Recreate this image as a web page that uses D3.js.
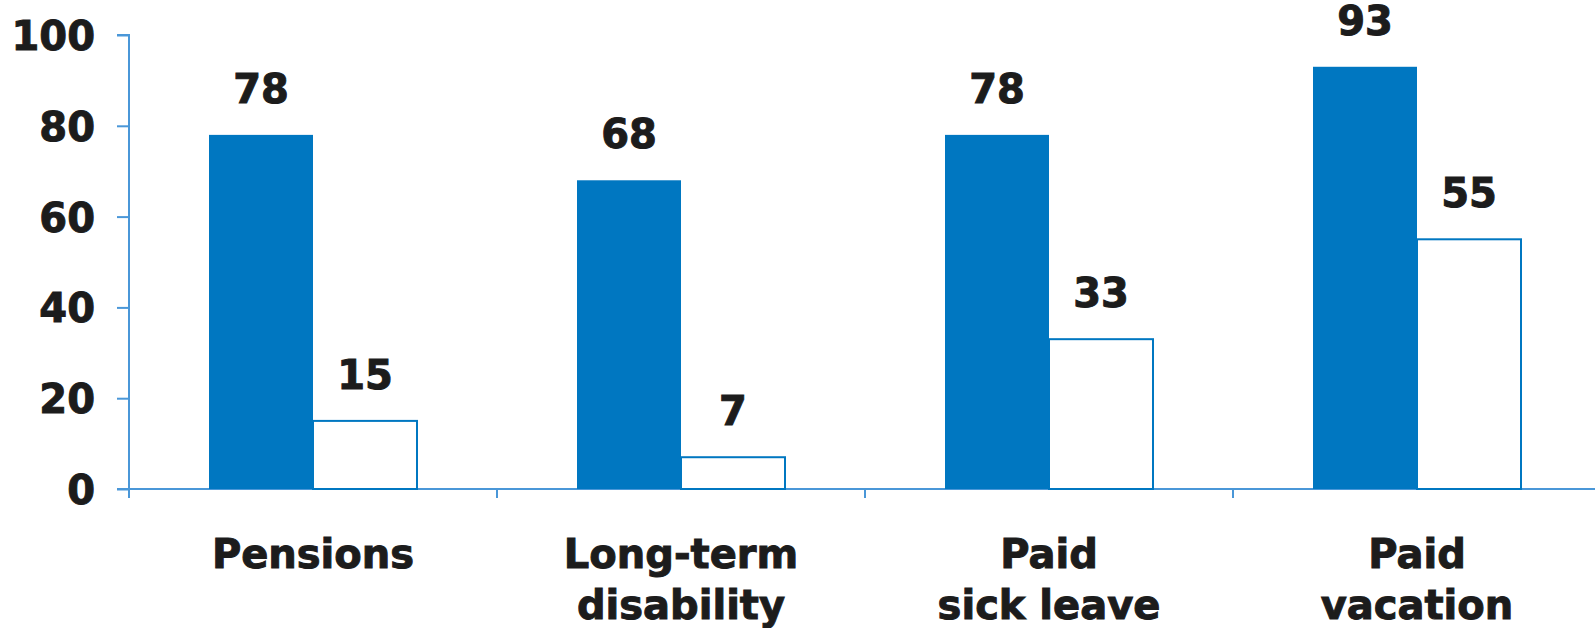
<!DOCTYPE html>
<html>
<head>
<meta charset="utf-8">
<script src="https://cdn.jsdelivr.net/npm/d3@7"></script>
<style>
  body { margin: 0; background: #fff; }
  text { font-family: "DejaVu Sans", "Liberation Sans", Arial, sans-serif; font-weight: bold; fill: #1c1c1c; }
</style>
</head>
<body>
<div class="chart"></div>
<script>
// data
const categories = ["Pensions", "Long-term disability", "Paid sick leave", "Paid vacation"];
const catLines = [["Pensions"], ["Long-term", "disability"], ["Paid", "sick leave"], ["Paid", "vacation"]];
const seriesA = [78, 68, 78, 93];   // filled bars
const seriesB = [15, 7, 33, 55];    // outlined bars
const yTicks = [0, 20, 40, 60, 80, 100];

const W = 1595, H = 628;
const margin = {top: 35, right: 0, bottom: 139, left: 129};
const width = W - margin.left - margin.right,
      height = H - margin.top - margin.bottom;

const blue = "#0077c1", axisBlue = "#4a97d8";

const svg = d3.select(".chart").append("svg")
    .attr("width", W).attr("height", H)
  .append("g")
    .attr("transform", "translate(" + margin.left + "," + margin.top + ")");

const x = d3.scaleBand()
    .domain(categories)
    .range([0, 368 * 4]);

const y = d3.scaleLinear()
    .domain([0, 100])
    .range([height, 0]);

const barW = 104;

// y axis
const yAxis = svg.append("g")
    .call(d3.axisLeft(y).tickValues(yTicks).tickSize(12).tickPadding(22));
yAxis.select(".domain").attr("d", "M-12,0H0V" + (height + 9));
yAxis.selectAll("line").attr("stroke", axisBlue).attr("stroke-width", 2);
yAxis.select(".domain").attr("stroke", axisBlue).attr("stroke-width", 2);
yAxis.selectAll("text")
    .style("font-size", "40px")
    .attr("fill", "#1c1c1c")
    .attr("stroke", "#1c1c1c").attr("stroke-width", 1)
    .attr("dy", "0.36em");

// x axis
const xAxis = svg.append("g")
    .attr("transform", "translate(0," + height + ")");
xAxis.append("line")
    .attr("x1", -12).attr("x2", width)
    .attr("stroke", axisBlue).attr("stroke-width", 2);
xAxis.selectAll(".sep")
    .data(categories)
    .enter().append("line")
    .attr("class", "sep")
    .attr("x1", d => x(d)).attr("x2", d => x(d))
    .attr("y1", 0).attr("y2", 9)
    .attr("stroke", axisBlue).attr("stroke-width", 2);

// filled bars
svg.selectAll(".barA")
    .data(seriesA)
    .enter().append("rect")
    .attr("class", "barA")
    .attr("x", (d, i) => x(categories[i]) + x.bandwidth() / 2 - barW)
    .attr("y", d => y(d))
    .attr("width", barW)
    .attr("height", d => height - y(d))
    .style("fill", blue);

// outlined bars
svg.selectAll(".barB")
    .data(seriesB)
    .enter().append("rect")
    .attr("class", "barB")
    .attr("x", (d, i) => x(categories[i]) + x.bandwidth() / 2)
    .attr("y", d => y(d))
    .attr("width", barW)
    .attr("height", d => height - y(d))
    .style("fill", "#fff")
    .style("stroke", blue)
    .style("stroke-width", 2);

// value labels
const labelStyle = sel => sel
    .style("text-anchor", "middle")
    .style("font-size", "40px")
    .attr("stroke", "#1c1c1c").attr("stroke-width", 1);

svg.selectAll(".valA")
    .data(seriesA)
    .enter().append("text")
    .attr("x", (d, i) => x(categories[i]) + x.bandwidth() / 2 - barW / 2)
    .attr("y", d => y(d) - 32)
    .text(d => d)
    .call(labelStyle);

svg.selectAll(".valB")
    .data(seriesB)
    .enter().append("text")
    .attr("x", (d, i) => x(categories[i]) + x.bandwidth() / 2 + barW / 2)
    .attr("y", d => y(d) - 32)
    .text(d => d)
    .call(labelStyle);

// category labels
svg.selectAll(".cat")
    .data(catLines)
    .enter().append("text")
    .attr("class", "cat")
    .attr("transform", (d, i) => "translate(" + (x(categories[i]) + x.bandwidth() / 2) + "," + (height + 79) + ")")
    .call(labelStyle)
    .selectAll("tspan")
    .data(d => d)
    .enter().append("tspan")
    .attr("x", 0)
    .attr("y", (d, j) => j * 51)
    .text(d => d);
</script>
</body>
</html>
